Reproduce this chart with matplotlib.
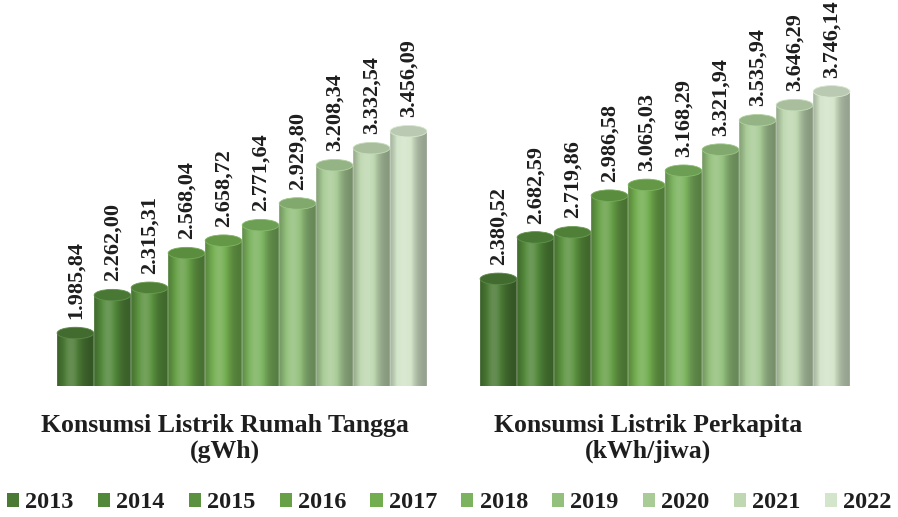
import numpy as np
import matplotlib
matplotlib.use('Agg')
import matplotlib.pyplot as plt
import matplotlib.colors as mcolors
from matplotlib.patches import Ellipse, Patch, PathPatch
from matplotlib.path import Path

years = ['2013', '2014', '2015', '2016', '2017', '2018', '2019', '2020', '2021', '2022']
rumah_tangga = [1985.84, 2262.00, 2315.31, 2568.04, 2658.72, 2771.64, 2929.80, 3208.34, 3332.54, 3456.09]
perkapita = [2380.52, 2682.59, 2719.86, 2986.58, 3065.03, 3168.29, 3321.94, 3535.94, 3646.29, 3746.14]
kategori = ['Konsumsi Listrik Rumah Tangga\n(gWh)', 'Konsumsi Listrik Perkapita\n(kWh/jiwa)']
warna = ['#4b7a35', '#52883a', '#5b923f', '#67a047', '#72ad4f',
         '#7bb35e', '#93c07c', '#a9cc97', '#bfd8b1', '#d3e5ca']

font = 'Liberation Serif'
txtcol = '#1e1e1e'
ybase = 1600
ytop = 4412
barw = 0.0875
ell_b = 42  # half height of ellipse in data units


def fmt(v):
    s = f"{v:,.2f}"
    return s.replace(',', 'X').replace('.', ',').replace('X', '.')


def shade(color, f):
    c = np.array(mcolors.to_rgb(color))
    if f >= 1:
        return c + (1 - c) * (f - 1)
    return c * f


def cylinder(ax, xc, w, top, color):
    a = w / 2
    t = np.linspace(np.pi, 2 * np.pi, 40)
    bx = xc + a * np.cos(t)
    by = ybase + ell_b * np.sin(t)
    verts = list(zip(bx, by)) + [(xc + a, top), (xc - a, top), (xc - a, ybase)]
    codes = [Path.MOVETO] + [Path.LINETO] * (len(verts) - 2) + [Path.CLOSEPOLY]
    body = PathPatch(Path(verts, codes), facecolor='none', edgecolor='none')
    ax.add_patch(body)
    u = np.linspace(0, 1, 60)
    prof = 0.7 + 0.45 * np.exp(-((u - 0.38) / 0.3) ** 2)
    img = np.array([[shade(color, f) for f in prof]])
    im = ax.imshow(img, extent=[xc - a, xc + a, ybase - ell_b, top],
                   aspect='auto', interpolation='bilinear', zorder=2)
    im.set_clip_path(body)
    ax.add_patch(Ellipse((xc, top), w, 2 * ell_b, facecolor=shade(color, 0.88),
                         edgecolor=shade(color, 1.1), lw=0.6, zorder=3))


fig = plt.figure(figsize=(8.98, 5.17), dpi=100)
ax = fig.add_axes([0, 131 / 517, 1, 386 / 517])

groups = [rumah_tangga, perkapita]
for g, vals in enumerate(groups):
    for i, v in enumerate(vals):
        xc = g + (i - 4.5) * barw
        cylinder(ax, xc, barw * 0.99, v, warna[i])
        ax.annotate(fmt(v), (xc, v), xytext=(0, 10), textcoords='offset points',
                    rotation=90, ha='center', va='bottom', fontsize=16,
                    fontweight='bold', family=font, color=txtcol,
                    annotation_clip=False)
    ax.annotate(kategori[g], (g - 0.04, -0.135), xycoords=('data', 'axes fraction'),
                ha='center', va='center', fontsize=18.5, fontweight='bold',
                family=font, color=txtcol, linespacing=1.15,
                annotation_clip=False)

ax.set_xlim(-242 / 423, (898 - 242) / 423)
ax.set_ylim(ybase, ytop)
ax.axis('off')

handles = [Patch(facecolor=c, edgecolor='none') for c in warna]
fig.legend(handles, years, loc='center', bbox_to_anchor=(0.5, 1 - 503 / 517),
           ncol=10, frameon=False, handlelength=0.5, handleheight=0.5,
           handletextpad=0.25, columnspacing=1.0,
           prop={'family': font, 'weight': 'bold', 'size': 17.5})
for t in fig.legends[0].get_texts():
    t.set_color(txtcol)

fig.savefig('out.png', dpi=100)
